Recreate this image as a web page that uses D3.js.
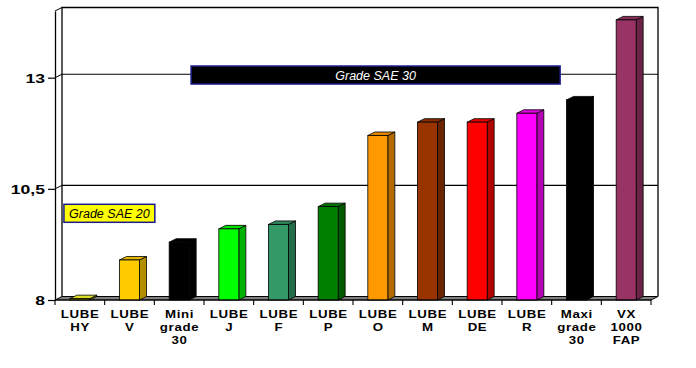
<!DOCTYPE html>
<html><head><meta charset="utf-8">
<script src="https://cdn.jsdelivr.net/npm/d3@7"></script>
<style>
body{margin:0;background:#fff;}
svg{display:block;}
</style></head>
<body><svg id="c" width="696" height="368"></svg>
<script>
const categories = [["LUBE","HY"],["LUBE","V"],["Mini","grade","30"],["LUBE","J"],["LUBE","F"],["LUBE","P"],["LUBE","O"],["LUBE","M"],["LUBE","DE"],["LUBE","R"],["Maxi","grade","30"],["VX","1000","FAP"]];
const values = [8.03, 8.9, 9.3, 9.6, 9.7, 10.1, 11.7, 12.0, 12.0, 12.2, 12.5, 14.3];
const colors = ["#c8c800","#ffcc00","#000000","#00ff00","#339966","#008000","#ff9900","#993300","#ff0000","#ff00ff","#000000","#993366"];
const yTicks = [8, 10.5, 13];
const yTickLabels = ["8","10,5","13"];
const yDomain = [8, 14.5];
const notes = [
  {text:"Grade SAE 30", from:2.74, to:10.17, value:13.06, fill:"#000000", color:"#ffffff"},
  {text:"Grade SAE 20", from:0.18, to:2.01, value:9.95, fill:"#ffff00", color:"#000000"}
];

const svg = d3.select("#c");
const X0 = 55, X1 = 651, DX = 7, DY = -3.5;
const FONT = "Liberation Sans, Arial, sans-serif";
const x = d3.scaleBand().domain(d3.range(categories.length)).range([X0, X1]).paddingInner(0).paddingOuter(0);
const xl = d3.scaleLinear().domain([0, categories.length]).range([X0, X1]);
const y = d3.scaleLinear().domain(yDomain).range([300, 11]);
const yB = v => y(v) + DY;

const g = svg.append("g");
// back wall
g.append("polyline")
  .attr("points", [[X0+DX, yB(yDomain[0])],[X0+DX, yB(yDomain[1])],[X1+DX, yB(yDomain[1])],[X1+DX, yB(yDomain[0])]].map(p=>p.join(",")).join(" "))
  .attr("fill","none").attr("stroke","#000").attr("stroke-width",1.3);
// gridlines on back wall + left wall diagonals
yTicks.slice(1).forEach(t=>{
  g.append("line").attr("x1",X0+DX).attr("x2",X1+DX).attr("y1",yB(t)).attr("y2",yB(t)).attr("stroke","#000").attr("stroke-width",1.1);
  g.append("line").attr("x1",X0).attr("x2",X0+DX).attr("y1",y(t)).attr("y2",yB(t)).attr("stroke","#000").attr("stroke-width",1);
});
g.append("line").attr("x1",X0).attr("x2",X0+DX).attr("y1",y(yDomain[1])).attr("y2",yB(yDomain[1])).attr("stroke","#000").attr("stroke-width",1);
// floor
g.append("polygon")
  .attr("points", [[X0,y(8)],[X1,y(8)],[X1+DX,yB(8)],[X0+DX,yB(8)]].map(p=>p.join(",")).join(" "))
  .attr("fill","#808080").attr("stroke","#000").attr("stroke-width",1);

// y axis
const yAxis = d3.axisLeft(y).tickValues(yTicks).tickFormat((d,i)=>yTickLabels[i]).tickSize(7).tickSizeOuter(0);
const ya = svg.append("g").attr("transform",`translate(${X0},0)`).call(yAxis);
ya.select(".domain").attr("stroke","#000").attr("stroke-width",1.3);
ya.selectAll(".tick line").attr("stroke","#000").attr("stroke-width",1.2);
ya.selectAll(".tick text").attr("font-family",FONT).attr("font-weight","bold").attr("font-size",13.5).attr("fill","#000")
  .attr("x",0).attr("dy","0.36em").attr("text-anchor","end").attr("transform","translate(-10,0) scale(1.3,1)");

// bars
const bw = 20;
const bars = svg.append("g");
values.forEach((v,i)=>{
  const c = d3.color(colors[i]);
  const cx = x(i) + x.bandwidth()/2;
  const l = cx - bw/2, r = cx + bw/2, t = y(v), b = y(8);
  const side = c.darker(1.0).toString();
  const top = i===0 ? "#dddd22" : c.darker(0.35).toString();
  const bg = bars.append("g");
  bg.append("polygon").attr("points",[[r,b],[r+DX,b+DY],[r+DX,t+DY],[r,t]].map(p=>p.join(",")).join(" "))
    .attr("fill", colors[i]==="#000000" ? "#000" : side).attr("stroke","#000").attr("stroke-width",0.8).attr("stroke-linejoin","round");
  bg.append("polygon").attr("points",[[l,t],[r,t],[r+DX,t+DY],[l+DX,t+DY]].map(p=>p.join(",")).join(" "))
    .attr("fill", colors[i]==="#000000" ? "#000" : top).attr("stroke","#000").attr("stroke-width",0.8).attr("stroke-linejoin","round");
  bg.append("rect").attr("x",l).attr("y",t).attr("width",bw).attr("height",Math.max(0,b-t))
    .attr("fill",colors[i]).attr("stroke","#000").attr("stroke-width",0.8);
});

// x axis
const xa = svg.append("g");
xa.append("line").attr("x1",X0).attr("x2",X1).attr("y1",y(8)).attr("y2",y(8)).attr("stroke","#000").attr("stroke-width",1.2);
d3.range(categories.length+1).forEach(i=>{
  xa.append("line").attr("x1",xl(i)).attr("x2",xl(i)).attr("y1",y(8)).attr("y2",y(8)+5).attr("stroke","#000").attr("stroke-width",1.1);
});
categories.forEach((lines,i)=>{
  const cx = x(i) + x.bandwidth()/2;
  const tx = xa.append("text").attr("text-anchor","middle")
    .attr("transform",`translate(${cx},0) scale(1.3,1)`)
    .attr("font-family",FONT).attr("font-weight","bold").attr("font-size",10.2)
    .attr("letter-spacing","0.5px").attr("fill","#000");
  lines.forEach((s,k)=>{
    tx.append("tspan").attr("x",0.25).attr("y",317.7 + k*13.3).text(s);
  });
});

// annotation boxes
notes.forEach(n=>{
  const xa0 = xl(n.from), xa1 = xl(n.to);
  const yc = y(n.value);
  const h = 18;
  svg.append("rect").attr("x",xa0).attr("y",yc - h/2).attr("width",xa1-xa0).attr("height",h)
    .attr("fill",n.fill).attr("stroke","#1a1a8c").attr("stroke-width",1.5);
  svg.append("text").attr("x",(xa0+xa1)/2).attr("y",yc+4.5).attr("text-anchor","middle")
    .attr("font-family",FONT).attr("font-style","italic").attr("font-size",12.5)
    .attr("fill",n.color).text(n.text);
});
</script>
</body></html>
